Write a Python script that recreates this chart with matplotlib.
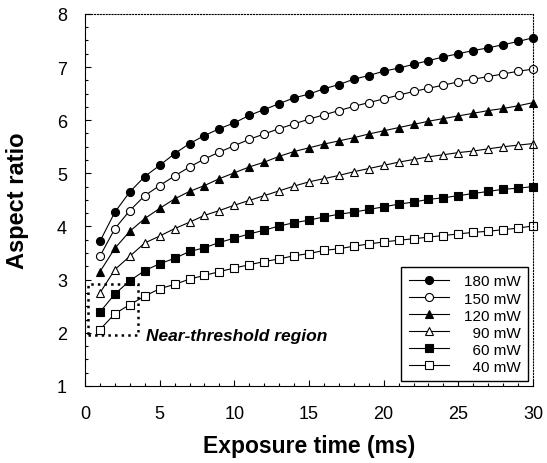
import numpy as np
import matplotlib.pyplot as plt
from matplotlib.patches import Rectangle
from matplotlib.ticker import MultipleLocator

plt.rcParams['font.family'] = ['Liberation Sans', 'DejaVu Sans']

# exposure time (ms)
exposure = list(range(1, 31))

ar_180 = [3.72, 4.27, 4.65, 4.94, 5.15, 5.37, 5.56, 5.71, 5.84, 5.95,
          6.09, 6.20, 6.31, 6.42, 6.49, 6.59, 6.67, 6.77, 6.84, 6.92,
          6.98, 7.05, 7.12, 7.19, 7.25, 7.31, 7.36, 7.42, 7.48, 7.55]
ar_150 = [3.44, 3.96, 4.30, 4.58, 4.77, 4.95, 5.12, 5.27, 5.40, 5.52,
          5.64, 5.74, 5.84, 5.93, 6.02, 6.10, 6.18, 6.26, 6.33, 6.40,
          6.47, 6.54, 6.60, 6.66, 6.72, 6.77, 6.82, 6.87, 6.92, 6.96]
ar_120 = [3.15, 3.59, 3.91, 4.15, 4.34, 4.52, 4.66, 4.77, 4.90, 5.01,
          5.12, 5.21, 5.32, 5.41, 5.48, 5.55, 5.61, 5.67, 5.74, 5.80,
          5.86, 5.92, 5.98, 6.03, 6.08, 6.13, 6.18, 6.22, 6.27, 6.33]
ar_90 = [2.75, 3.19, 3.44, 3.69, 3.82, 3.96, 4.08, 4.21, 4.30, 4.40,
         4.49, 4.58, 4.67, 4.76, 4.84, 4.90, 4.96, 5.03, 5.09, 5.15,
         5.21, 5.26, 5.31, 5.35, 5.39, 5.42, 5.46, 5.50, 5.53, 5.56]
ar_60 = [2.39, 2.73, 2.98, 3.17, 3.30, 3.40, 3.53, 3.60, 3.70, 3.78,
         3.86, 3.93, 4.01, 4.07, 4.12, 4.18, 4.23, 4.27, 4.32, 4.37,
         4.42, 4.46, 4.51, 4.54, 4.58, 4.62, 4.66, 4.70, 4.72, 4.75]
ar_40 = [2.06, 2.36, 2.53, 2.69, 2.83, 2.91, 3.01, 3.08, 3.15, 3.22,
         3.28, 3.34, 3.39, 3.45, 3.49, 3.55, 3.58, 3.63, 3.67, 3.71,
         3.74, 3.77, 3.80, 3.83, 3.86, 3.89, 3.91, 3.94, 3.97, 4.01]

labels = ['180 mW', '150 mW', '120 mW', '  90 mW', '  60 mW', '  40 mW']
series = [ar_180, ar_150, ar_120, ar_90, ar_60, ar_40]
markers = ['o', 'o', '^', '^', 's', 's']
fills = ['black', 'white', 'black', 'white', 'black', 'white']

fig = plt.figure(figsize=(5.47, 4.64), dpi=100)
ax = fig.add_axes([0.1554, 0.166, 0.819, 0.802])

for ys, lab, m, fc in zip(series, labels, markers, fills):
    ax.plot(exposure, ys, color='black', lw=0.8, marker=m, ms=5.8,
            mfc=fc, mec='black', mew=0.8, label=lab, clip_on=False)

# near-threshold box
ax.add_patch(Rectangle((0.2, 1.95), 3.35, 0.97, fill=False, ls=':',
                       lw=1.8, ec='black'))
ax.text(4.1, 1.95, 'Near-threshold region', fontsize=12.5,
        fontweight='bold', style='italic', va='center', ha='left')

ax.set_xlim(0, 30)
ax.set_ylim(1, 8)
ax.xaxis.set_major_locator(MultipleLocator(5))
ax.xaxis.set_minor_locator(MultipleLocator(1))
ax.yaxis.set_major_locator(MultipleLocator(1))
ax.yaxis.set_minor_locator(MultipleLocator(0.25))
ax.tick_params(which='both', direction='in', top=False, right=False,
               labelsize=13, width=0.8)
ax.tick_params(which='major', length=4)
ax.tick_params(which='minor', length=2)
ax.tick_params(axis='x', which='major', pad=14)
ax.tick_params(axis='y', which='major', pad=13)
for s in ax.spines.values():
    s.set_linewidth(0.8)
ax.spines['top'].set_linestyle(':')
ax.spines['right'].set_linestyle(':')

ax.set_xlabel('Exposure time (ms)', fontsize=16.5, fontweight='bold',
              labelpad=8)
ax.set_ylabel('Aspect ratio', fontsize=17, fontweight='bold', labelpad=20)

leg = ax.legend(loc='lower right', fontsize=11, fancybox=False,
                edgecolor='black', framealpha=1, borderaxespad=0.3,
                handlelength=2.6, labelspacing=0.2, handletextpad=1.0,
                borderpad=0.5)
leg.get_frame().set_linewidth(1.0)

fig.savefig('out.png', dpi=100)
